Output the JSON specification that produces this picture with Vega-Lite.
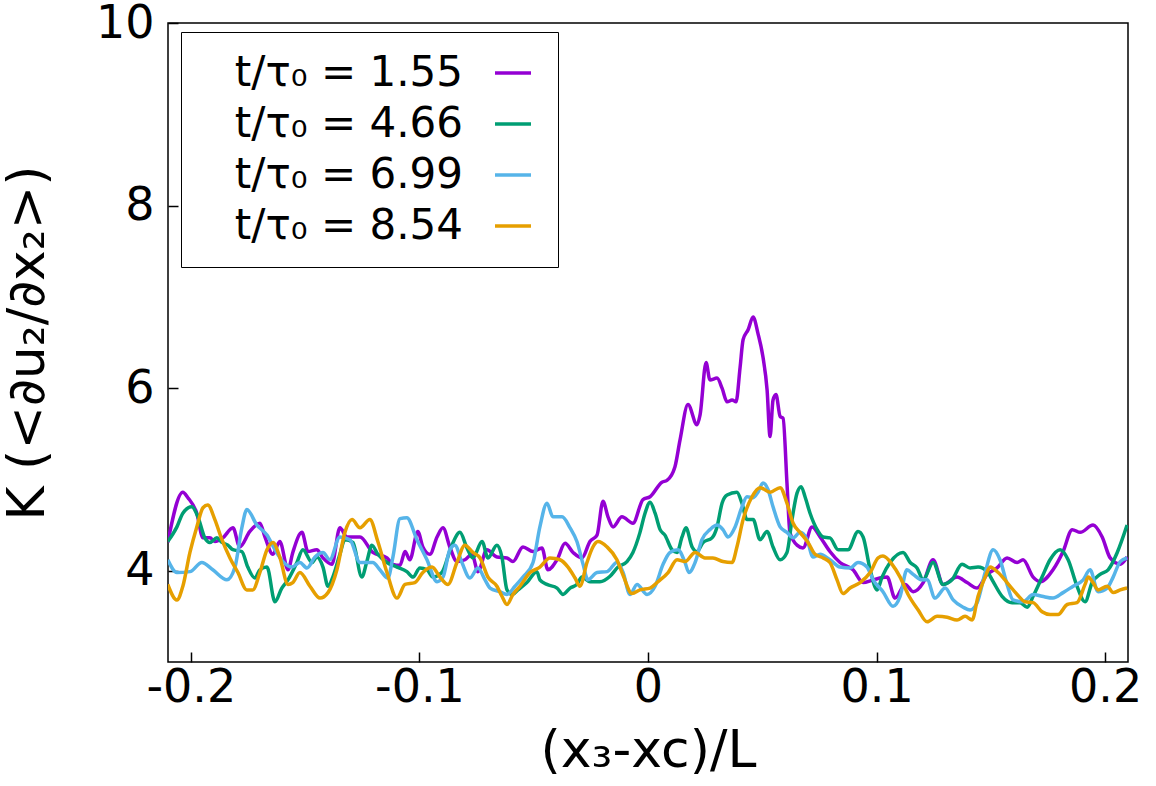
{
  "$schema": "https://vega.github.io/schema/vega-lite/v6.json",
  "width": 960,
  "height": 639,
  "autosize": {"type": "none"},
  "padding": {"left": 168, "top": 23, "right": 28, "bottom": 124},
  "background": "white",
  "config": {
    "font": "DejaVu Sans",
    "view": {"stroke": "black", "strokeWidth": 1.5},
    "axis": {
      "domain": false, "grid": false,
      "tickColor": "black", "tickWidth": 1.5, "tickSize": -10,
      "labelColor": "black", "labelFontSize": 46, "labelFont": "DejaVu Sans",
      "titleColor": "black", "titleFontSize": 52, "titleFont": "DejaVu Sans", "titleFontWeight": "normal"
    }
  },
  "data": {"values": [
    {"t":"1.55","x":-0.2101,"y":4.31},{"t":"1.55","x":-0.2035,"y":4.86},{"t":"1.55","x":-0.2013,"y":4.80},{"t":"1.55","x":-0.1974,"y":4.63},{"t":"1.55","x":-0.1947,"y":4.36},{"t":"1.55","x":-0.1917,"y":4.36},{"t":"1.55","x":-0.1895,"y":4.32},{"t":"1.55","x":-0.1860,"y":4.36},{"t":"1.55","x":-0.1816,"y":4.47},{"t":"1.55","x":-0.1786,"y":4.26},{"t":"1.55","x":-0.1742,"y":4.43},{"t":"1.55","x":-0.1698,"y":4.52},{"t":"1.55","x":-0.1676,"y":4.37},{"t":"1.55","x":-0.1641,"y":4.18},{"t":"1.55","x":-0.1611,"y":4.32},{"t":"1.55","x":-0.1575,"y":4.01},{"t":"1.55","x":-0.1554,"y":4.20},{"t":"1.55","x":-0.1514,"y":4.42},{"t":"1.55","x":-0.1488,"y":4.21},{"t":"1.55","x":-0.1449,"y":4.23},{"t":"1.55","x":-0.1422,"y":4.14},{"t":"1.55","x":-0.1383,"y":4.07},{"t":"1.55","x":-0.1348,"y":4.47},{"t":"1.55","x":-0.1317,"y":4.37},{"t":"1.55","x":-0.1260,"y":4.37},{"t":"1.55","x":-0.1204,"y":4.20},{"t":"1.55","x":-0.1142,"y":4.14},{"t":"1.55","x":-0.1116,"y":4.07},{"t":"1.55","x":-0.1085,"y":4.06},{"t":"1.55","x":-0.1063,"y":4.21},{"t":"1.55","x":-0.1042,"y":4.12},{"t":"1.55","x":-0.1007,"y":4.43},{"t":"1.55","x":-0.0985,"y":4.26},{"t":"1.55","x":-0.0954,"y":4.18},{"t":"1.55","x":-0.0923,"y":4.37},{"t":"1.55","x":-0.0897,"y":4.47},{"t":"1.55","x":-0.0867,"y":4.26},{"t":"1.55","x":-0.0836,"y":4.10},{"t":"1.55","x":-0.0801,"y":4.12},{"t":"1.55","x":-0.0770,"y":4.18},{"t":"1.55","x":-0.0744,"y":3.99},{"t":"1.55","x":-0.0705,"y":4.23},{"t":"1.55","x":-0.0661,"y":4.15},{"t":"1.55","x":-0.0617,"y":4.14},{"t":"1.55","x":-0.0591,"y":4.10},{"t":"1.55","x":-0.0547,"y":4.26},{"t":"1.55","x":-0.0503,"y":4.21},{"t":"1.55","x":-0.0464,"y":4.25},{"t":"1.55","x":-0.0438,"y":4.01},{"t":"1.55","x":-0.0398,"y":4.12},{"t":"1.55","x":-0.0363,"y":4.30},{"t":"1.55","x":-0.0328,"y":4.20},{"t":"1.55","x":-0.0289,"y":4.14},{"t":"1.55","x":-0.0254,"y":4.32},{"t":"1.55","x":-0.0223,"y":4.39},{"t":"1.55","x":-0.0197,"y":4.76},{"t":"1.55","x":-0.0175,"y":4.59},{"t":"1.55","x":-0.0153,"y":4.48},{"t":"1.55","x":-0.0114,"y":4.59},{"t":"1.55","x":-0.0066,"y":4.52},{"t":"1.55","x":-0.0022,"y":4.78},{"t":"1.55","x":0.0009,"y":4.81},{"t":"1.55","x":0.0061,"y":4.97},{"t":"1.55","x":0.0083,"y":4.99},{"t":"1.55","x":0.0118,"y":5.14},{"t":"1.55","x":0.0140,"y":5.43},{"t":"1.55","x":0.0175,"y":5.82},{"t":"1.55","x":0.0214,"y":5.60},{"t":"1.55","x":0.0228,"y":5.71},{"t":"1.55","x":0.0254,"y":6.28},{"t":"1.55","x":0.0271,"y":6.09},{"t":"1.55","x":0.0302,"y":6.11},{"t":"1.55","x":0.0324,"y":6.00},{"t":"1.55","x":0.0346,"y":5.85},{"t":"1.55","x":0.0368,"y":5.87},{"t":"1.55","x":0.0385,"y":5.85},{"t":"1.55","x":0.0403,"y":6.23},{"t":"1.55","x":0.0416,"y":6.53},{"t":"1.55","x":0.0438,"y":6.64},{"t":"1.55","x":0.0460,"y":6.78},{"t":"1.55","x":0.0481,"y":6.60},{"t":"1.55","x":0.0503,"y":6.34},{"t":"1.55","x":0.0521,"y":5.98},{"t":"1.55","x":0.0534,"y":5.47},{"t":"1.55","x":0.0547,"y":5.87},{"t":"1.55","x":0.0560,"y":5.93},{"t":"1.55","x":0.0578,"y":5.69},{"t":"1.55","x":0.0591,"y":5.67},{"t":"1.55","x":0.0608,"y":4.96},{"t":"1.55","x":0.0621,"y":4.42},{"t":"1.55","x":0.0652,"y":4.28},{"t":"1.55","x":0.0678,"y":4.25},{"t":"1.55","x":0.0718,"y":4.48},{"t":"1.55","x":0.0753,"y":4.37},{"t":"1.55","x":0.0796,"y":4.21},{"t":"1.55","x":0.0840,"y":4.09},{"t":"1.55","x":0.0897,"y":4.01},{"t":"1.55","x":0.0941,"y":3.87},{"t":"1.55","x":0.0985,"y":3.90},{"t":"1.55","x":0.1046,"y":3.93},{"t":"1.55","x":0.1081,"y":3.70},{"t":"1.55","x":0.1125,"y":3.85},{"t":"1.55","x":0.1160,"y":3.77},{"t":"1.55","x":0.1204,"y":3.87},{"t":"1.55","x":0.1247,"y":4.12},{"t":"1.55","x":0.1291,"y":3.85},{"t":"1.55","x":0.1352,"y":3.93},{"t":"1.55","x":0.1396,"y":3.87},{"t":"1.55","x":0.1440,"y":3.81},{"t":"1.55","x":0.1484,"y":3.96},{"t":"1.55","x":0.1527,"y":4.03},{"t":"1.55","x":0.1571,"y":4.14},{"t":"1.55","x":0.1615,"y":4.09},{"t":"1.55","x":0.1641,"y":4.12},{"t":"1.55","x":0.1685,"y":3.93},{"t":"1.55","x":0.1716,"y":3.88},{"t":"1.55","x":0.1772,"y":4.01},{"t":"1.55","x":0.1816,"y":4.21},{"t":"1.55","x":0.1856,"y":4.45},{"t":"1.55","x":0.1891,"y":4.42},{"t":"1.55","x":0.1947,"y":4.50},{"t":"1.55","x":0.1987,"y":4.37},{"t":"1.55","x":0.2022,"y":4.14},{"t":"1.55","x":0.2066,"y":4.07},{"t":"1.55","x":0.2096,"y":4.15},
    {"t":"4.66","x":-0.2101,"y":4.32},{"t":"4.66","x":-0.2061,"y":4.48},{"t":"4.66","x":-0.2035,"y":4.63},{"t":"4.66","x":-0.1996,"y":4.70},{"t":"4.66","x":-0.1969,"y":4.59},{"t":"4.66","x":-0.1939,"y":4.36},{"t":"4.66","x":-0.1917,"y":4.31},{"t":"4.66","x":-0.1886,"y":4.36},{"t":"4.66","x":-0.1864,"y":4.31},{"t":"4.66","x":-0.1838,"y":4.28},{"t":"4.66","x":-0.1816,"y":4.23},{"t":"4.66","x":-0.1777,"y":4.21},{"t":"4.66","x":-0.1751,"y":4.04},{"t":"4.66","x":-0.1720,"y":3.92},{"t":"4.66","x":-0.1698,"y":4.01},{"t":"4.66","x":-0.1667,"y":4.04},{"t":"4.66","x":-0.1632,"y":3.66},{"t":"4.66","x":-0.1602,"y":3.81},{"t":"4.66","x":-0.1575,"y":3.90},{"t":"4.66","x":-0.1536,"y":4.09},{"t":"4.66","x":-0.1510,"y":4.23},{"t":"4.66","x":-0.1470,"y":4.09},{"t":"4.66","x":-0.1449,"y":4.15},{"t":"4.66","x":-0.1422,"y":4.04},{"t":"4.66","x":-0.1400,"y":3.83},{"t":"4.66","x":-0.1379,"y":3.93},{"t":"4.66","x":-0.1348,"y":4.18},{"t":"4.66","x":-0.1326,"y":4.34},{"t":"4.66","x":-0.1291,"y":4.31},{"t":"4.66","x":-0.1252,"y":3.93},{"t":"4.66","x":-0.1230,"y":4.10},{"t":"4.66","x":-0.1208,"y":4.28},{"t":"4.66","x":-0.1182,"y":4.18},{"t":"4.66","x":-0.1142,"y":4.09},{"t":"4.66","x":-0.1098,"y":4.04},{"t":"4.66","x":-0.1055,"y":3.99},{"t":"4.66","x":-0.1028,"y":3.93},{"t":"4.66","x":-0.0998,"y":4.03},{"t":"4.66","x":-0.0967,"y":4.01},{"t":"4.66","x":-0.0941,"y":3.93},{"t":"4.66","x":-0.0902,"y":3.98},{"t":"4.66","x":-0.0858,"y":4.28},{"t":"4.66","x":-0.0823,"y":4.42},{"t":"4.66","x":-0.0792,"y":4.25},{"t":"4.66","x":-0.0766,"y":4.14},{"t":"4.66","x":-0.0726,"y":4.32},{"t":"4.66","x":-0.0700,"y":4.14},{"t":"4.66","x":-0.0661,"y":4.28},{"t":"4.66","x":-0.0639,"y":4.15},{"t":"4.66","x":-0.0617,"y":3.79},{"t":"4.66","x":-0.0595,"y":3.74},{"t":"4.66","x":-0.0569,"y":3.79},{"t":"4.66","x":-0.0530,"y":3.87},{"t":"4.66","x":-0.0486,"y":3.99},{"t":"4.66","x":-0.0473,"y":3.90},{"t":"4.66","x":-0.0442,"y":3.85},{"t":"4.66","x":-0.0398,"y":3.81},{"t":"4.66","x":-0.0372,"y":3.74},{"t":"4.66","x":-0.0341,"y":3.81},{"t":"4.66","x":-0.0311,"y":3.85},{"t":"4.66","x":-0.0289,"y":3.93},{"t":"4.66","x":-0.0254,"y":3.88},{"t":"4.66","x":-0.0210,"y":3.88},{"t":"4.66","x":-0.0166,"y":3.94},{"t":"4.66","x":-0.0131,"y":4.04},{"t":"4.66","x":-0.0092,"y":4.10},{"t":"4.66","x":-0.0066,"y":4.20},{"t":"4.66","x":-0.0035,"y":4.42},{"t":"4.66","x":-0.0013,"y":4.63},{"t":"4.66","x":0.0009,"y":4.75},{"t":"4.66","x":0.0031,"y":4.63},{"t":"4.66","x":0.0053,"y":4.45},{"t":"4.66","x":0.0074,"y":4.39},{"t":"4.66","x":0.0105,"y":4.23},{"t":"4.66","x":0.0127,"y":4.20},{"t":"4.66","x":0.0149,"y":4.37},{"t":"4.66","x":0.0166,"y":4.47},{"t":"4.66","x":0.0193,"y":4.26},{"t":"4.66","x":0.0214,"y":4.21},{"t":"4.66","x":0.0241,"y":4.31},{"t":"4.66","x":0.0280,"y":4.36},{"t":"4.66","x":0.0302,"y":4.48},{"t":"4.66","x":0.0324,"y":4.74},{"t":"4.66","x":0.0346,"y":4.83},{"t":"4.66","x":0.0389,"y":4.86},{"t":"4.66","x":0.0411,"y":4.74},{"t":"4.66","x":0.0433,"y":4.56},{"t":"4.66","x":0.0460,"y":4.56},{"t":"4.66","x":0.0490,"y":4.34},{"t":"4.66","x":0.0521,"y":4.43},{"t":"4.66","x":0.0547,"y":4.26},{"t":"4.66","x":0.0578,"y":4.12},{"t":"4.66","x":0.0608,"y":4.20},{"t":"4.66","x":0.0630,"y":4.56},{"t":"4.66","x":0.0652,"y":4.85},{"t":"4.66","x":0.0670,"y":4.92},{"t":"4.66","x":0.0687,"y":4.81},{"t":"4.66","x":0.0709,"y":4.63},{"t":"4.66","x":0.0740,"y":4.45},{"t":"4.66","x":0.0766,"y":4.37},{"t":"4.66","x":0.0796,"y":4.36},{"t":"4.66","x":0.0832,"y":4.23},{"t":"4.66","x":0.0875,"y":4.23},{"t":"4.66","x":0.0919,"y":4.43},{"t":"4.66","x":0.0941,"y":4.37},{"t":"4.66","x":0.0972,"y":4.01},{"t":"4.66","x":0.1002,"y":3.79},{"t":"4.66","x":0.1024,"y":3.93},{"t":"4.66","x":0.1059,"y":4.09},{"t":"4.66","x":0.1116,"y":4.20},{"t":"4.66","x":0.1147,"y":4.09},{"t":"4.66","x":0.1177,"y":4.03},{"t":"4.66","x":0.1204,"y":3.90},{"t":"4.66","x":0.1247,"y":4.09},{"t":"4.66","x":0.1291,"y":3.85},{"t":"4.66","x":0.1330,"y":3.90},{"t":"4.66","x":0.1374,"y":4.07},{"t":"4.66","x":0.1409,"y":4.03},{"t":"4.66","x":0.1444,"y":4.04},{"t":"4.66","x":0.1484,"y":3.99},{"t":"4.66","x":0.1510,"y":3.88},{"t":"4.66","x":0.1549,"y":3.72},{"t":"4.66","x":0.1593,"y":3.65},{"t":"4.66","x":0.1628,"y":3.65},{"t":"4.66","x":0.1659,"y":3.60},{"t":"4.66","x":0.1685,"y":3.72},{"t":"4.66","x":0.1724,"y":3.93},{"t":"4.66","x":0.1759,"y":4.12},{"t":"4.66","x":0.1803,"y":4.23},{"t":"4.66","x":0.1838,"y":4.12},{"t":"4.66","x":0.1877,"y":3.83},{"t":"4.66","x":0.1912,"y":3.66},{"t":"4.66","x":0.1943,"y":3.87},{"t":"4.66","x":0.1978,"y":3.96},{"t":"4.66","x":0.2013,"y":4.01},{"t":"4.66","x":0.2053,"y":4.20},{"t":"4.66","x":0.2096,"y":4.50},
    {"t":"6.99","x":-0.2101,"y":4.12},{"t":"6.99","x":-0.2061,"y":3.98},{"t":"6.99","x":-0.2004,"y":3.99},{"t":"6.99","x":-0.1952,"y":4.09},{"t":"6.99","x":-0.1904,"y":4.01},{"t":"6.99","x":-0.1842,"y":3.90},{"t":"6.99","x":-0.1807,"y":4.04},{"t":"6.99","x":-0.1777,"y":4.47},{"t":"6.99","x":-0.1755,"y":4.67},{"t":"6.99","x":-0.1711,"y":4.50},{"t":"6.99","x":-0.1667,"y":4.39},{"t":"6.99","x":-0.1632,"y":4.23},{"t":"6.99","x":-0.1597,"y":4.10},{"t":"6.99","x":-0.1558,"y":4.04},{"t":"6.99","x":-0.1523,"y":4.09},{"t":"6.99","x":-0.1492,"y":4.03},{"t":"6.99","x":-0.1457,"y":4.15},{"t":"6.99","x":-0.1422,"y":4.20},{"t":"6.99","x":-0.1392,"y":4.12},{"t":"6.99","x":-0.1348,"y":4.37},{"t":"6.99","x":-0.1304,"y":4.34},{"t":"6.99","x":-0.1260,"y":4.09},{"t":"6.99","x":-0.1204,"y":4.09},{"t":"6.99","x":-0.1173,"y":4.01},{"t":"6.99","x":-0.1138,"y":3.92},{"t":"6.99","x":-0.1116,"y":4.15},{"t":"6.99","x":-0.1085,"y":4.57},{"t":"6.99","x":-0.1055,"y":4.58},{"t":"6.99","x":-0.1011,"y":4.34},{"t":"6.99","x":-0.0967,"y":4.12},{"t":"6.99","x":-0.0923,"y":3.88},{"t":"6.99","x":-0.0897,"y":3.93},{"t":"6.99","x":-0.0867,"y":4.23},{"t":"6.99","x":-0.0845,"y":4.28},{"t":"6.99","x":-0.0814,"y":4.09},{"t":"6.99","x":-0.0779,"y":3.92},{"t":"6.99","x":-0.0744,"y":4.03},{"t":"6.99","x":-0.0713,"y":3.90},{"t":"6.99","x":-0.0691,"y":3.81},{"t":"6.99","x":-0.0648,"y":3.77},{"t":"6.99","x":-0.0617,"y":3.74},{"t":"6.99","x":-0.0582,"y":3.83},{"t":"6.99","x":-0.0547,"y":3.93},{"t":"6.99","x":-0.0503,"y":4.09},{"t":"6.99","x":-0.0473,"y":4.48},{"t":"6.99","x":-0.0442,"y":4.74},{"t":"6.99","x":-0.0416,"y":4.59},{"t":"6.99","x":-0.0376,"y":4.59},{"t":"6.99","x":-0.0341,"y":4.47},{"t":"6.99","x":-0.0311,"y":4.32},{"t":"6.99","x":-0.0284,"y":4.07},{"t":"6.99","x":-0.0263,"y":3.90},{"t":"6.99","x":-0.0223,"y":3.98},{"t":"6.99","x":-0.0179,"y":3.99},{"t":"6.99","x":-0.0136,"y":4.09},{"t":"6.99","x":-0.0109,"y":3.98},{"t":"6.99","x":-0.0079,"y":3.74},{"t":"6.99","x":-0.0048,"y":3.85},{"t":"6.99","x":-0.0004,"y":3.74},{"t":"6.99","x":0.0031,"y":3.83},{"t":"6.99","x":0.0066,"y":4.07},{"t":"6.99","x":0.0096,"y":4.20},{"t":"6.99","x":0.0131,"y":4.23},{"t":"6.99","x":0.0162,"y":4.09},{"t":"6.99","x":0.0179,"y":3.98},{"t":"6.99","x":0.0206,"y":4.09},{"t":"6.99","x":0.0236,"y":4.34},{"t":"6.99","x":0.0271,"y":4.45},{"t":"6.99","x":0.0302,"y":4.50},{"t":"6.99","x":0.0328,"y":4.45},{"t":"6.99","x":0.0350,"y":4.37},{"t":"6.99","x":0.0381,"y":4.48},{"t":"6.99","x":0.0411,"y":4.70},{"t":"6.99","x":0.0433,"y":4.81},{"t":"6.99","x":0.0460,"y":4.80},{"t":"6.99","x":0.0481,"y":4.86},{"t":"6.99","x":0.0503,"y":4.96},{"t":"6.99","x":0.0525,"y":4.89},{"t":"6.99","x":0.0547,"y":4.70},{"t":"6.99","x":0.0578,"y":4.48},{"t":"6.99","x":0.0608,"y":4.42},{"t":"6.99","x":0.0635,"y":4.36},{"t":"6.99","x":0.0665,"y":4.42},{"t":"6.99","x":0.0696,"y":4.34},{"t":"6.99","x":0.0722,"y":4.15},{"t":"6.99","x":0.0753,"y":4.18},{"t":"6.99","x":0.0796,"y":4.12},{"t":"6.99","x":0.0840,"y":4.04},{"t":"6.99","x":0.0884,"y":4.03},{"t":"6.99","x":0.0919,"y":4.09},{"t":"6.99","x":0.0958,"y":4.04},{"t":"6.99","x":0.0985,"y":3.90},{"t":"6.99","x":0.1028,"y":3.77},{"t":"6.99","x":0.1072,"y":3.61},{"t":"6.99","x":0.1103,"y":3.72},{"t":"6.99","x":0.1133,"y":4.01},{"t":"6.99","x":0.1160,"y":3.96},{"t":"6.99","x":0.1199,"y":3.90},{"t":"6.99","x":0.1221,"y":3.90},{"t":"6.99","x":0.1256,"y":3.70},{"t":"6.99","x":0.1300,"y":3.81},{"t":"6.99","x":0.1335,"y":3.68},{"t":"6.99","x":0.1379,"y":3.60},{"t":"6.99","x":0.1409,"y":3.57},{"t":"6.99","x":0.1440,"y":3.65},{"t":"6.99","x":0.1475,"y":3.98},{"t":"6.99","x":0.1510,"y":4.23},{"t":"6.99","x":0.1540,"y":4.12},{"t":"6.99","x":0.1571,"y":3.85},{"t":"6.99","x":0.1597,"y":3.68},{"t":"6.99","x":0.1641,"y":3.66},{"t":"6.99","x":0.1685,"y":3.74},{"t":"6.99","x":0.1724,"y":3.72},{"t":"6.99","x":0.1772,"y":3.70},{"t":"6.99","x":0.1816,"y":3.76},{"t":"6.99","x":0.1860,"y":3.83},{"t":"6.99","x":0.1904,"y":3.90},{"t":"6.99","x":0.1934,"y":4.01},{"t":"6.99","x":0.1969,"y":3.77},{"t":"6.99","x":0.2009,"y":3.81},{"t":"6.99","x":0.2035,"y":3.93},{"t":"6.99","x":0.2066,"y":4.10},{"t":"6.99","x":0.2096,"y":4.14},
    {"t":"8.54","x":-0.2101,"y":3.85},{"t":"8.54","x":-0.2061,"y":3.68},{"t":"8.54","x":-0.2035,"y":3.83},{"t":"8.54","x":-0.2004,"y":4.20},{"t":"8.54","x":-0.1974,"y":4.48},{"t":"8.54","x":-0.1947,"y":4.69},{"t":"8.54","x":-0.1926,"y":4.72},{"t":"8.54","x":-0.1895,"y":4.56},{"t":"8.54","x":-0.1864,"y":4.34},{"t":"8.54","x":-0.1829,"y":4.14},{"t":"8.54","x":-0.1794,"y":3.98},{"t":"8.54","x":-0.1755,"y":3.79},{"t":"8.54","x":-0.1729,"y":3.79},{"t":"8.54","x":-0.1698,"y":3.98},{"t":"8.54","x":-0.1667,"y":4.23},{"t":"8.54","x":-0.1641,"y":4.31},{"t":"8.54","x":-0.1611,"y":4.15},{"t":"8.54","x":-0.1575,"y":3.85},{"t":"8.54","x":-0.1554,"y":3.87},{"t":"8.54","x":-0.1523,"y":3.98},{"t":"8.54","x":-0.1479,"y":3.83},{"t":"8.54","x":-0.1435,"y":3.70},{"t":"8.54","x":-0.1400,"y":3.76},{"t":"8.54","x":-0.1361,"y":4.01},{"t":"8.54","x":-0.1326,"y":4.42},{"t":"8.54","x":-0.1295,"y":4.56},{"t":"8.54","x":-0.1260,"y":4.47},{"t":"8.54","x":-0.1217,"y":4.56},{"t":"8.54","x":-0.1182,"y":4.32},{"t":"8.54","x":-0.1142,"y":3.98},{"t":"8.54","x":-0.1098,"y":3.70},{"t":"8.54","x":-0.1063,"y":3.85},{"t":"8.54","x":-0.1020,"y":3.87},{"t":"8.54","x":-0.0985,"y":3.98},{"t":"8.54","x":-0.0945,"y":4.04},{"t":"8.54","x":-0.0910,"y":3.93},{"t":"8.54","x":-0.0875,"y":3.85},{"t":"8.54","x":-0.0836,"y":4.09},{"t":"8.54","x":-0.0801,"y":4.28},{"t":"8.54","x":-0.0766,"y":4.20},{"t":"8.54","x":-0.0735,"y":4.14},{"t":"8.54","x":-0.0700,"y":3.93},{"t":"8.54","x":-0.0661,"y":3.83},{"t":"8.54","x":-0.0639,"y":3.72},{"t":"8.54","x":-0.0617,"y":3.63},{"t":"8.54","x":-0.0591,"y":3.74},{"t":"8.54","x":-0.0560,"y":3.83},{"t":"8.54","x":-0.0516,"y":3.98},{"t":"8.54","x":-0.0473,"y":4.04},{"t":"8.54","x":-0.0429,"y":4.14},{"t":"8.54","x":-0.0385,"y":4.12},{"t":"8.54","x":-0.0350,"y":4.04},{"t":"8.54","x":-0.0319,"y":3.92},{"t":"8.54","x":-0.0298,"y":3.83},{"t":"8.54","x":-0.0267,"y":4.09},{"t":"8.54","x":-0.0241,"y":4.26},{"t":"8.54","x":-0.0219,"y":4.32},{"t":"8.54","x":-0.0179,"y":4.26},{"t":"8.54","x":-0.0136,"y":4.12},{"t":"8.54","x":-0.0109,"y":3.95},{"t":"8.54","x":-0.0070,"y":3.75},{"t":"8.54","x":-0.0035,"y":3.79},{"t":"8.54","x":0.0009,"y":3.81},{"t":"8.54","x":0.0044,"y":3.88},{"t":"8.54","x":0.0088,"y":3.98},{"t":"8.54","x":0.0127,"y":4.12},{"t":"8.54","x":0.0162,"y":4.10},{"t":"8.54","x":0.0206,"y":4.20},{"t":"8.54","x":0.0249,"y":4.14},{"t":"8.54","x":0.0284,"y":4.14},{"t":"8.54","x":0.0328,"y":4.10},{"t":"8.54","x":0.0368,"y":4.09},{"t":"8.54","x":0.0389,"y":4.26},{"t":"8.54","x":0.0416,"y":4.56},{"t":"8.54","x":0.0455,"y":4.81},{"t":"8.54","x":0.0490,"y":4.91},{"t":"8.54","x":0.0534,"y":4.86},{"t":"8.54","x":0.0578,"y":4.91},{"t":"8.54","x":0.0608,"y":4.74},{"t":"8.54","x":0.0635,"y":4.52},{"t":"8.54","x":0.0665,"y":4.42},{"t":"8.54","x":0.0700,"y":4.31},{"t":"8.54","x":0.0731,"y":4.18},{"t":"8.54","x":0.0766,"y":4.14},{"t":"8.54","x":0.0796,"y":4.09},{"t":"8.54","x":0.0827,"y":3.90},{"t":"8.54","x":0.0853,"y":3.75},{"t":"8.54","x":0.0884,"y":3.81},{"t":"8.54","x":0.0928,"y":3.87},{"t":"8.54","x":0.0972,"y":3.98},{"t":"8.54","x":0.1007,"y":4.14},{"t":"8.54","x":0.1028,"y":4.16},{"t":"8.54","x":0.1068,"y":4.07},{"t":"8.54","x":0.1103,"y":3.93},{"t":"8.54","x":0.1138,"y":3.74},{"t":"8.54","x":0.1182,"y":3.57},{"t":"8.54","x":0.1221,"y":3.44},{"t":"8.54","x":0.1265,"y":3.50},{"t":"8.54","x":0.1309,"y":3.49},{"t":"8.54","x":0.1352,"y":3.46},{"t":"8.54","x":0.1387,"y":3.50},{"t":"8.54","x":0.1418,"y":3.46},{"t":"8.54","x":0.1444,"y":3.72},{"t":"8.54","x":0.1475,"y":3.93},{"t":"8.54","x":0.1497,"y":4.04},{"t":"8.54","x":0.1532,"y":3.98},{"t":"8.54","x":0.1571,"y":3.87},{"t":"8.54","x":0.1615,"y":3.74},{"t":"8.54","x":0.1650,"y":3.66},{"t":"8.54","x":0.1685,"y":3.65},{"t":"8.54","x":0.1724,"y":3.55},{"t":"8.54","x":0.1759,"y":3.52},{"t":"8.54","x":0.1794,"y":3.52},{"t":"8.54","x":0.1834,"y":3.63},{"t":"8.54","x":0.1877,"y":3.65},{"t":"8.54","x":0.1912,"y":3.85},{"t":"8.54","x":0.1926,"y":3.93},{"t":"8.54","x":0.1947,"y":3.87},{"t":"8.54","x":0.1969,"y":3.79},{"t":"8.54","x":0.2009,"y":3.83},{"t":"8.54","x":0.2035,"y":3.76},{"t":"8.54","x":0.2066,"y":3.79},{"t":"8.54","x":0.2096,"y":3.81}
  ]},
  "mark": {"type": "line", "strokeWidth": 3.5, "interpolate": "monotone", "clip": true},
  "encoding": {
    "x": {
      "field": "x", "type": "quantitative",
      "scale": {"domain": [-0.21, 0.21], "nice": false, "zero": false},
      "axis": {
        "values": [-0.2, -0.1, 0, 0.1, 0.2], "format": "~g",
        "labelExpr": "replace(datum.label, '−', '-')",
        "labelPadding": 13, "titlePadding": 15,
        "title": "(x₃-xc)/L"
      }
    },
    "y": {
      "field": "y", "type": "quantitative",
      "scale": {"domain": [3, 10], "nice": false, "zero": false},
      "axis": {
        "values": [4, 6, 8, 10],
        "labelPadding": 24, "titlePadding": 41,
        "title": "K (<∂u₂/∂x₂>)"
      }
    },
    "color": {
      "field": "t", "type": "nominal",
      "scale": {"domain": ["1.55", "4.66", "6.99", "8.54"], "range": ["#9400d3", "#009e73", "#56b4e9", "#e69f00"]},
      "legend": {
        "orient": "none", "legendX": 13, "legendY": 9,
        "title": null,
        "labelExpr": "'t/τ₀ = ' + datum.label",
        "labelFontSize": 42, "labelFont": "DejaVu Sans", "labelColor": "black", "labelLimit": 500,
        "labelAlign": "right", "labelOffset": -71, "symbolOffset": 291,
        "symbolType": "stroke", "symbolSize": 1296, "symbolStrokeWidth": 3.5,
        "strokeColor": "black", "fillColor": "white", "padding": 20, "rowPadding": 9
      }
    }
  }
}
